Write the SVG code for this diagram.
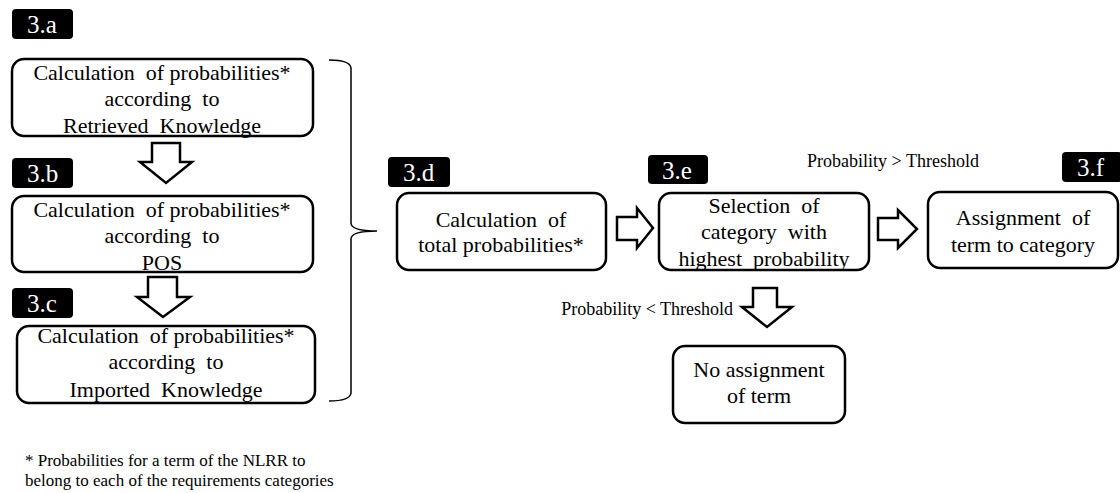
<svg xmlns="http://www.w3.org/2000/svg" width="1120" height="493" viewBox="0 0 1120 493">
  <style>
    .box { fill: #fff; stroke: #000; stroke-width: 2.5; }
    .tag { fill: #000; }
    .tagtxt { fill: #fff; font-family: "Liberation Serif", serif; font-size: 25px; }
    .t { fill: #000; font-family: "Liberation Serif", serif; font-size: 22px; text-anchor: middle; white-space: pre; }
    .s { fill: #000; font-family: "Liberation Serif", serif; font-size: 18px; }
    .fn { fill: #000; font-family: "Liberation Serif", serif; font-size: 17px; }
    .blk { fill: #fff; stroke: #000; stroke-width: 2.5; stroke-linejoin: miter; }
    .brace { fill: none; stroke: #000; stroke-width: 1.5; }
  </style>

  <!-- step tags -->
  <g id="tag-3a"><rect class="tag" x="12" y="9" width="61" height="30" rx="4"/><text class="tagtxt" x="27" y="33">3.a</text></g>
  <g id="tag-3b"><rect class="tag" x="12" y="158" width="61" height="30" rx="4"/><text class="tagtxt" x="27" y="182">3.b</text></g>
  <g id="tag-3c"><rect class="tag" x="12" y="288" width="61" height="30" rx="4"/><text class="tagtxt" x="27" y="312">3.c</text></g>
  <g id="tag-3d"><rect class="tag" x="388" y="157" width="62" height="30" rx="4"/><text class="tagtxt" x="403" y="181">3.d</text></g>
  <g id="tag-3e"><rect class="tag" x="648" y="155" width="60" height="29" rx="4"/><text class="tagtxt" x="662" y="179">3.e</text></g>
  <g id="tag-3f"><rect class="tag" x="1062" y="152" width="60" height="30" rx="4"/><text class="tagtxt" x="1077" y="176">3.f</text></g>

  <!-- process nodes -->
  <g id="node-3a">
    <rect class="box" x="12" y="59" width="301" height="77" rx="12"/>
    <text class="t" x="162" y="80">Calculation  of probabilities*</text>
    <text class="t" x="162" y="106">according  to</text>
    <text class="t" x="162" y="133">Retrieved  Knowledge</text>
  </g>
  <g id="node-3b">
    <rect class="box" x="12" y="196" width="301" height="76" rx="12"/>
    <text class="t" x="162" y="217">Calculation  of probabilities*</text>
    <text class="t" x="162" y="243">according  to</text>
    <text class="t" x="162" y="270">POS</text>
  </g>
  <g id="node-3c">
    <rect class="box" x="17" y="326" width="298" height="77" rx="12"/>
    <text class="t" x="166" y="343">Calculation  of probabilities*</text>
    <text class="t" x="166" y="369">according  to</text>
    <text class="t" x="166" y="397">Imported  Knowledge</text>
  </g>
  <g id="node-3d">
    <rect class="box" x="397" y="193" width="209" height="77" rx="12"/>
    <text class="t" x="501" y="227">Calculation  of</text>
    <text class="t" x="501" y="252">total probabilities*</text>
  </g>
  <g id="node-3e">
    <rect class="box" x="659" y="193" width="210" height="77" rx="12"/>
    <text class="t" x="764" y="213">Selection  of</text>
    <text class="t" x="764" y="239">category  with</text>
    <text class="t" x="764" y="266">highest  probability</text>
  </g>
  <g id="node-3f">
    <rect class="box" x="928" y="192" width="190" height="76" rx="12"/>
    <text class="t" x="1023" y="225">Assignment  of</text>
    <text class="t" x="1023" y="252">term to category</text>
  </g>
  <g id="node-none">
    <rect class="box" x="673" y="346" width="172" height="77" rx="12"/>
    <text class="t" x="759" y="377">No assignment</text>
    <text class="t" x="759" y="403">of term</text>
  </g>

  <!-- connectors -->
  <g id="connectors">
    <path class="brace" d="M329,60 Q350,60 351,68 L351,223 Q351,231 377,231 Q351,231 351,239 L351,393 Q350,401 329,401"/>
    <path class="blk" d="M152,143 H180 V162 H192 L166,183 L140,162 H152 Z"/>
    <path class="blk" d="M148,277 H177 V297 H190 L163,317 L137,297 H148 Z"/>
    <path class="blk" d="M617,217 H637 V208 L653,228 L637,248 V240 H617 Z"/>
    <path class="blk" d="M878,218 H898 V210 L917,229 L898,248 V240 H878 Z"/>
    <path class="blk" d="M753,288 H777 V307 H792 L767,327 L742,307 H753 Z"/>
    <text class="s" x="893" y="167" text-anchor="middle">Probability &gt; Threshold</text>
    <text class="s" x="733" y="315" text-anchor="end">Probability &lt; Threshold</text>
  </g>

  <!-- footnote -->
  <g id="footnote">
    <text class="fn" x="25" y="466">* Probabilities for a term of the NLRR to</text>
    <text class="fn" x="25" y="486">belong to each of the requirements categories</text>
  </g>
</svg>
